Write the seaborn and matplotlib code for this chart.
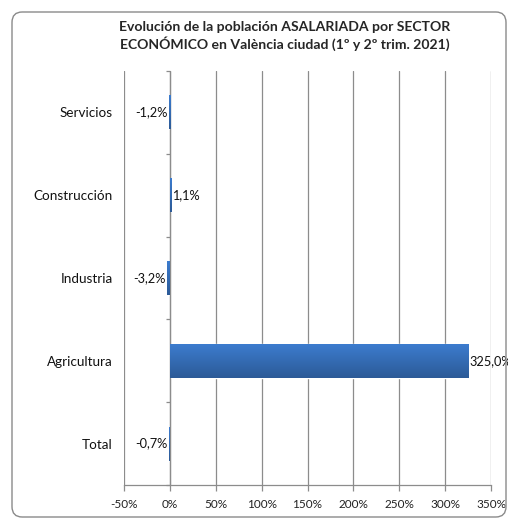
import seaborn as sns
import pandas as pd
import numpy as np
import matplotlib.pyplot as plt
from matplotlib.patches import FancyBboxPatch
from matplotlib.colors import LinearSegmentedColormap

sectores = ["Servicios", "Construcción", "Industria", "Agricultura", "Total"]
variacion = [-1.2, 1.1, -3.2, 325.0, -0.7]
ticks_x = [-50, 0, 50, 100, 150, 200, 250, 300, 350]

tab = pd.DataFrame({"Sector": sectores, "Variacion": variacion})

sns.set_style("white")
plt.rcParams['font.family'] = ['Lato', 'DejaVu Sans']

fig = plt.figure(figsize=(5.08, 5.21), dpi=100)
ax = fig.add_axes([124 / 508, 1 - 485 / 521, 367 / 508, 414 / 521])

sns.barplot(data=tab, x="Variacion", y="Sector", orient='h', color="#3568b0",
            width=0.41, errorbar=None, ax=ax)

# degradado en las barras (claro arriba, oscuro abajo)
cmap = LinearSegmentedColormap.from_list("azul", ["#2c5a97", "#3c7cce"])
grad = np.linspace(0, 1, 64).reshape(-1, 1)
for p in list(ax.patches):
    x0, y0 = p.get_x(), p.get_y()
    w, h = p.get_width(), p.get_height()
    im = ax.imshow(grad, cmap=cmap, aspect='auto', zorder=p.get_zorder() + 0.1,
                   extent=[x0, x0 + w, y0 + h, y0], origin='lower')
    im.set_clip_path(p)

ax.set_xlim(-50, 350)
ax.set_ylim(4.5, -0.5)
ax.set_xticks(ticks_x)
ax.set_xticklabels([f"{t}%" for t in ticks_x], fontsize=8.5, color="#222222")
ax.tick_params(axis='x', length=4, width=0.9, color="#8c8c8c", pad=6, bottom=True)
ax.tick_params(axis='y', length=0, pad=8, labelsize=9.7, labelcolor="#111111")
ax.set_xlabel("")
ax.set_ylabel("")

ax.grid(axis='x', color="#8c8c8c", lw=0.9)
ax.set_axisbelow(True)
for s in ["top", "right", "left"]:
    ax.spines[s].set_visible(False)
ax.spines["bottom"].set_color("#8c8c8c")
ax.spines["bottom"].set_linewidth(0.9)

# eje en el 0 con marcas entre categorias
ax.axvline(0, color="#8c8c8c", lw=0.9, zorder=1)
ax.hlines(np.arange(-0.5, len(sectores)), -4.5, 0, color="#8c8c8c", lw=0.9,
          clip_on=False)

for i, v in enumerate(variacion):
    txt = f"{v:.1f}%".replace(".", ",")
    if v < 0:
        ax.text(v - 1.5, i, txt, ha='right', va='center', fontsize=9.2, color="#111111")
    else:
        ax.text(v + 1.0, i, txt, ha='left', va='center', fontsize=9.2,
                color="#111111", clip_on=False)

fig.text(285 / 508, 1 - 36 / 521,
         "Evolución de la población ASALARIADA por SECTOR\nECONÓMICO en València ciudad (1º y 2º trim. 2021)",
         ha='center', va='center', fontsize=10.1, fontweight='bold', linespacing=1.3)

marco = FancyBboxPatch((12 / 508, 4 / 521), 494 / 508, 505 / 521,
                       boxstyle="round,pad=0,rounding_size=0.02",
                       transform=fig.transFigure, fill=False,
                       edgecolor="#8a8a8a", lw=1.0)
fig.patches.append(marco)

fig.savefig("out.png", dpi=100)
